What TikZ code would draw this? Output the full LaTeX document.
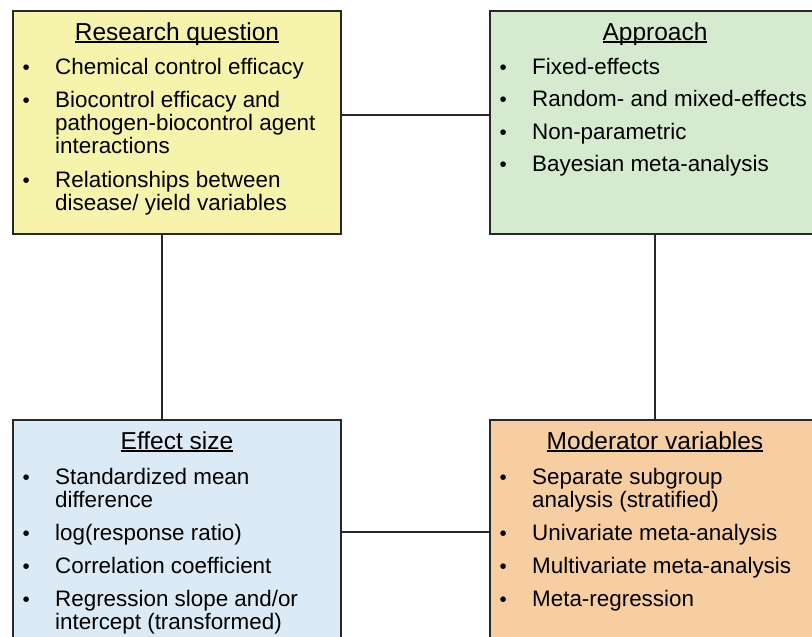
\documentclass[tikz,border=0pt]{standalone}
\usepackage{fontspec}
\setmainfont{Liberation Sans}
\usetikzlibrary{positioning,calc}

\definecolor{rqyellow}{RGB}{245,243,172}
\definecolor{apgreen}{RGB}{214,234,208}
\definecolor{esblue}{RGB}{220,234,246}
\definecolor{mvorange}{RGB}{247,206,162}
\definecolor{edgegray}{RGB}{40,40,40}

\newcommand{\headline}[1]{\setbox0=\hbox{#1}\rlap{\rule[-2.6pt]{\wd0}{1.2pt}}\box0}
\newcommand{\smallbul}{\hspace*{0.5pt}{\fontsize{20.5}{20.5}\selectfont\textbullet}}
\newcommand{\bulletlist}[1]{\begin{tabular}[t]{@{}p{33pt}@{}p{300pt}@{}}#1\end{tabular}}

\tikzset{
	box/.style={draw=edgegray, line width=2pt, anchor=north west, inner sep=0pt},
	boxhead/.style={anchor=base, inner sep=0pt, font=\fontsize{24.5}{26}\selectfont},
	boxlist/.style={anchor=base west, inner sep=0pt, font=\fontsize{22.4}{23}\selectfont},
	link/.style={draw=edgegray, line width=2pt}
}

\begin{document}
\begin{tikzpicture}[x=1pt, y=1pt]
	\useasboundingbox (0,0) rectangle (812,-637);
	\clip (0,0) rectangle (812,-637);

	% the four boxes
	\node[box, fill=rqyellow, minimum width=328pt, minimum height=223pt] (rq) at (12,-10) {};
	\node[box, fill=apgreen, minimum width=330pt, minimum height=223pt] (ap) at (489,-10) {};
	\node[box, fill=esblue, minimum width=328pt, minimum height=240pt] (es) at (12,-419) {};
	\node[box, fill=mvorange, minimum width=330pt, minimum height=240pt] (mv) at (489,-419) {};

	% headings
	\node[boxhead] (rqhead) at ([yshift=-30pt]rq.north) {\headline{Research question}};
	\node[boxhead] (aphead) at ([yshift=-30pt]ap.north) {\headline{Approach}};
	\node[boxhead] (eshead) at ([yshift=-30pt]es.north) {\headline{Effect size}};
	\node[boxhead] (mvhead) at ([yshift=-30pt]mv.north) {\headline{Moderator variables}};

	% bullet lists
	\node[boxlist] (rqlist) at ([xshift=10pt, yshift=-64pt]rq.north west) {\bulletlist{
		\smallbul & Chemical control efficacy\\[10.5pt]
		\smallbul & Biocontrol efficacy and\newline pathogen-biocontrol agent\newline interactions\\[10.5pt]
		\smallbul & Relationships between\newline disease/ yield variables}};
	\node[boxlist] (aplist) at ([xshift=10pt, yshift=-64pt]ap.north west) {\bulletlist{
		\smallbul & Fixed-effects\\[9.5pt]
		\smallbul & Random- and mixed-effects\\[9.5pt]
		\smallbul & Non-parametric\\[9.5pt]
		\smallbul & Bayesian meta-analysis}};
	\node[boxlist] (eslist) at ([xshift=10pt, yshift=-65pt]es.north west) {\bulletlist{
		\smallbul & Standardized mean\newline difference\\[10pt]
		\smallbul & log(response ratio)\\[10pt]
		\smallbul & Correlation coefficient\\[10pt]
		\smallbul & Regression slope and/or\newline intercept (transformed)}};
	\node[boxlist] (mvlist) at ([xshift=10pt, yshift=-65pt]mv.north west) {\bulletlist{
		\smallbul & Separate subgroup\newline analysis (stratified)\\[10pt]
		\smallbul & Univariate meta-analysis\\[10pt]
		\smallbul & Multivariate meta-analysis\\[10pt]
		\smallbul & Meta-regression}};

	% connectors
	\draw[link] ([yshift=8pt]rq.east) -- ([yshift=8pt]rq.east -| ap.west);
	\draw[link] ([xshift=-15pt]rq.south) -- ([xshift=-15pt]rq.south |- es.north);
	\draw[link] (ap.south) -- (ap.south |- mv.north);
	\draw[link] ([yshift=8pt]es.east) -- ([yshift=8pt]es.east -| mv.west);
\end{tikzpicture}
\end{document}
